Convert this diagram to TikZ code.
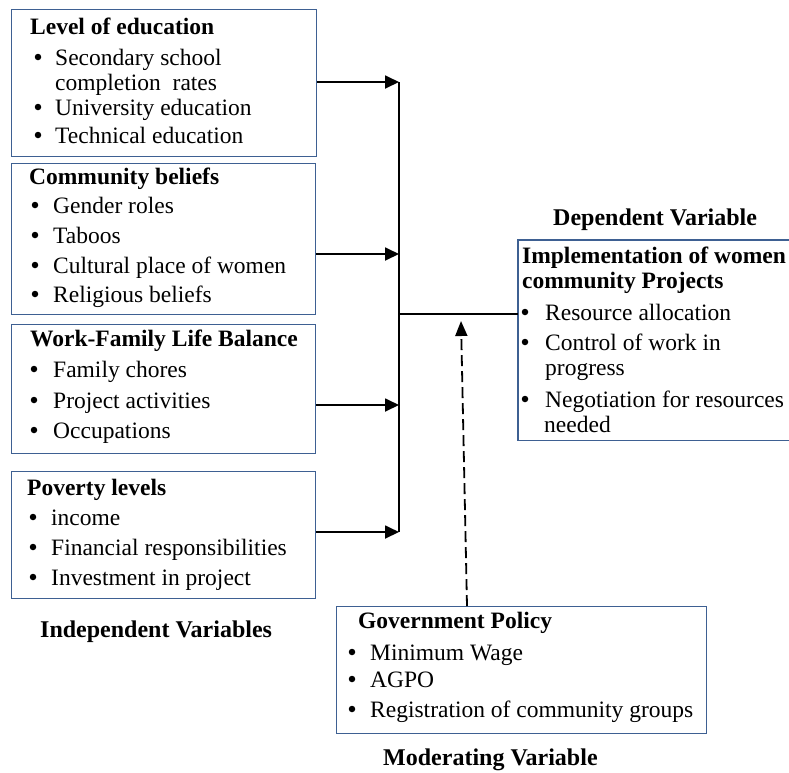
\documentclass[tikz,border=0pt]{standalone}
\usepackage{fontspec}
\setmainfont{Liberation Serif}
\usetikzlibrary{arrows.meta}
\definecolor{boxblue}{RGB}{62,96,146}
\newcommand\bodyfont{\fontsize{23.5}{28}\selectfont}
\newcommand\labelfont{\fontsize{24}{29}\selectfont\bfseries}
\begin{document}
\begin{tikzpicture}[x=1pt,y=-1pt,
  varbox/.style={draw=boxblue, line width=1.4pt, inner sep=0pt, anchor=north west},
  txt/.style={anchor=base west, inner sep=0pt, font=\bodyfont},
  hd/.style={anchor=base west, inner sep=0pt, font=\bodyfont\bfseries},
  bul/.style={circle, fill=black, inner sep=0pt, minimum size=6.5pt, yshift=8pt},
  caption/.style={anchor=base west, inner sep=0pt, font=\labelfont},
  wire/.style={line width=1.8pt},
  link/.style={wire, -{Triangle[length=14pt,width=13pt]}},
  dashlink/.style={line width=1.8pt, dash pattern=on 11pt off 5pt, -{Triangle[length=15pt,width=12pt]}}]
\useasboundingbox (0,0) rectangle (789,772);

% ---------- independent variable boxes ----------
\node[varbox, minimum width=305pt, minimum height=147pt] (edu)  at (11,9)   {};
\node[varbox, minimum width=304pt, minimum height=151pt] (comm) at (11,163) {};
\node[varbox, minimum width=304pt, minimum height=129pt] (work) at (11,324) {};
\node[varbox, minimum width=304pt, minimum height=127pt] (pov)  at (11,471) {};

% Level of education
\node[hd] (eduh) at (30,34) {Level of education};
\foreach \y/\t [count=\i] in {65/Secondary school, 115/University education, 143/Technical education}{
  \node[bul] (edub\i) at (38,\y) {};
  \node[txt] (edut\i) at (55,\y) {\t};
}
\node[txt] (educ) at (55,90) {completion\ \ rates};

% Community beliefs
\node[hd] (commh) at (29,184) {Community beliefs};
\foreach \y/\t [count=\i] in {213/Gender roles, 243/Taboos, 273/Cultural place of women, 302/Religious beliefs}{
  \node[bul] (commb\i) at (35,\y) {};
  \node[txt] (commt\i) at (53,\y) {\t};
}

% Work-family balance
\node[hd] (workh) at (30,346) {Work-Family Life Balance};
\foreach \y/\t [count=\i] in {377/Family chores, 408/Project activities, 438/Occupations}{
  \node[bul] (workb\i) at (34,\y) {};
  \node[txt] (workt\i) at (53,\y) {\t};
}

% Poverty levels
\node[hd] (povh) at (27,495) {Poverty levels};
\foreach \y/\t [count=\i] in {525/income, 555/Financial responsibilities, 585/Investment in project}{
  \node[bul] (povb\i) at (33,\y) {};
  \node[txt] (povt\i) at (51,\y) {\t};
}

\node[caption] (indep) at (40,637) {Independent Variables};

% ---------- dependent variable box (runs off the right edge) ----------
\node[inner sep=0pt, minimum width=271pt, minimum height=200pt, anchor=north west] (dep) at (518,240) {};
\draw[boxblue, line width=1.4pt] (dep.north east) -- (dep.north west) -- (dep.south west) -- (dep.south east);
\node[caption] (deplab) at (553,225) {Dependent Variable};
\node[hd] (deph1) at (522,263) {Implementation of women};
\node[hd] (deph2) at (522,288) {community Projects};
\foreach \y/\t [count=\i] in {320/Resource allocation, 350/Control of work in, 407/Negotiation for resources}{
  \node[bul] (depb\i) at (525,\y) {};
  \node[txt] (dept\i) at (545,\y) {\t};
}
\node[txt] (depc1) at (545,375) {progress};
\node[txt] (depc2) at (544,432) {needed};

% ---------- moderating variable box ----------
\node[varbox, minimum width=370pt, minimum height=127pt] (mod) at (336,606) {};
\node[hd] (modh) at (358,628) {Government Policy};
\foreach \y/\t [count=\i] in {660/Minimum Wage, 687/AGPO, 717/Registration of community groups}{
  \node[bul] (modb\i) at (352,\y) {};
  \node[txt] (modt\i) at (370,\y) {\t};
}
\node[caption] (modlab) at (383,765) {Moderating Variable};

% ---------- connectors ----------
\coordinate (bus1) at (399,82);
\coordinate (bus2) at (399,254);
\coordinate (bus3) at (399,405);
\coordinate (bus4) at (399,532);
\coordinate (busmid) at (399,314);
\draw[wire] (bus1) -- (bus4);
\draw[link] (edu.east |- bus1) -- (bus1);
\draw[link] (comm.east |- bus2) -- (bus2);
\draw[link] (work.east |- bus3) -- (bus3);
\draw[link] (pov.east |- bus4) -- (bus4);
\draw[wire] (busmid) -- (dep.west |- busmid);

\coordinate (modtop) at (467,606);
\coordinate (modtip) at (461,321);
\draw[dashlink] (modtop) -- (modtip);
\end{tikzpicture}
\end{document}
